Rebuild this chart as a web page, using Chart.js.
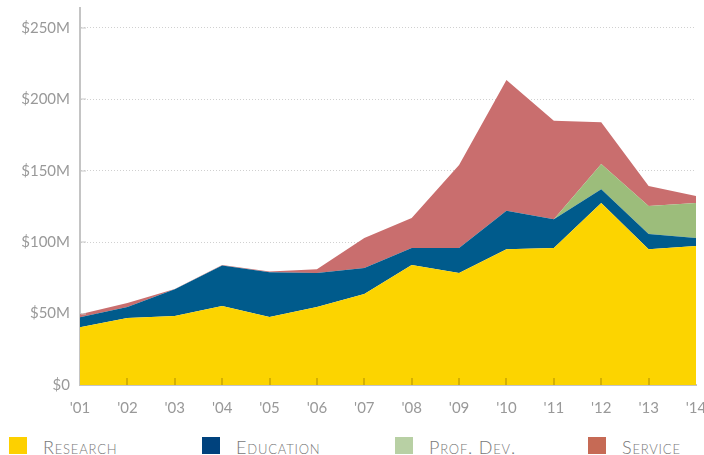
<!DOCTYPE html>
<html>
<head>
<meta charset="utf-8">
<script src="https://cdn.jsdelivr.net/npm/chart.js@4"></script>
<style>
  body { margin: 0; background: #fff; }
  #wrap { position: relative; width: 704px; height: 455px; }
  #legend { position: absolute; left: 0; top: 437px; width: 704px; height: 18px; }
  .item { position: absolute; top: 0; height: 18px; }
  .item .sw { position: absolute; left: 0; top: 0; width: 18px; height: 17px; }
  .item .tx { position: absolute; left: 34px; top: 1px; font-family: Lato, "Open Sans", sans-serif; font-weight: 300;
              font-size: 18px; font-variant: small-caps; letter-spacing: 0.8px; color: #777; line-height: 18px;
              white-space: nowrap; }
</style>
</head>
<body>
<div id="wrap">
  <canvas id="chart" width="704" height="420"></canvas>
  <div id="legend"></div>
</div>
<script>
// categorias y series (millones de dolares)
const years = ["'01", "'02", "'03", "'04", "'05", "'06", "'07", "'08", "'09", "'10", "'11", "'12", "'13", "'14"];
const research  = [40.5, 47, 48.3, 55.3, 47.6, 54.6, 63.7, 84, 78.4, 95, 96, 127.5, 95, 97.3];
const education = [7, 7.6, 18.7, 28.3, 31.4, 23.8, 18.3, 12, 17.6, 27, 20, 9.5, 10.7, 5.7];
const profDev   = [0, 0, 0, 0, 0, 0, 0, 0, 0, 0, 0, 17.7, 19.7, 24.5];
const service   = [2, 2.8, 0.3, 0.4, 0.4, 2.6, 21, 21, 58, 91.6, 69, 29.3, 14, 4.9];
const yTicks = [0, 50, 100, 150, 200, 250];

const legendX = [9, 202, 395, 588];

function serie(label, data, color, swatch, fill) {
    return { label: label, data: data, backgroundColor: color, borderColor: color, borderWidth: 0,
             pointRadius: 0, tension: 0, fill: fill, swatch: swatch };
}

// marcas pequeñas sobre los ejes
const axisMarks = {
    id: 'axisMarks',
    afterDatasetsDraw(chart) {
        const ctx = chart.ctx, x = chart.scales.x, y = chart.scales.y;
        ctx.save();
        ctx.fillStyle = 'rgba(140,110,0,0.35)';
        for (let i = 1; i < years.length - 1; i++) {
            const px = x.getPixelForTick(i);
            ctx.fillRect(Math.round(px) - 1, y.bottom - 7, 2, 7);
        }
        ctx.fillStyle = '#c8c8c8';
        yTicks.forEach(v => {
            if (v === 0) return;
            ctx.fillRect(x.left + 1, Math.round(y.getPixelForValue(v)) - 0.5, 5, 1);
        });
        ctx.restore();
    }
};

const chart = new Chart(document.getElementById('chart'), {
    type: 'line',
    data: {
        labels: years,
        datasets: [
            serie('Research', research, '#fcd400', '#fdd000', 'origin'),
            serie('Education', education, '#005b8c', '#00427d', '-1'),
            serie('Prof. Dev.', profDev, '#9cbd7b', '#b8d0a4', '-1'),
            serie('Service', service, '#c96e6e', '#c66a55', '-1')
        ]
    },
    options: {
        responsive: false,
        animation: false,
        layout: { padding: { top: 8, right: 8, left: 0, bottom: 0 } },
        plugins: { legend: { display: false }, tooltip: { enabled: false } },
        scales: {
            x: {
                offset: false,
                grid: { display: false, drawTicks: false },
                border: { color: '#c4c4c4', width: 2 },
                ticks: { color: '#999', padding: 14, maxRotation: 0, autoSkip: false,
                         font: { family: 'Lato', size: 15 } },
                afterFit(scale) { scale.height = 35; scale.paddingLeft = 0; scale.paddingRight = 0; }
            },
            y: {
                stacked: true,
                min: 0,
                max: 264,
                afterBuildTicks(scale) { scale.ticks = yTicks.map(v => ({ value: v })); },
                grid: { color: ctx => ctx.tick && ctx.tick.value > 0 ? '#d0d0d0' : 'rgba(0,0,0,0)',
                        drawTicks: false },
                border: { color: '#c4c4c4', width: 2, dash: [1, 2] },
                ticks: { color: '#999', padding: 10,
                         font: { family: 'Lato', size: 15 },
                         callback: v => '$' + v + (v ? 'M' : '') },
                afterFit(scale) { scale.width = 80; scale.paddingTop = 0; scale.paddingBottom = 0; }
            }
        }
    },
    plugins: [axisMarks]
});

// leyenda en html (versalitas)
const legend = document.getElementById('legend');
chart.data.datasets.forEach((ds, i) => {
    const item = document.createElement('div');
    item.className = 'item';
    item.style.left = legendX[i] + 'px';
    item.innerHTML = '<span class="sw" style="background:' + ds.swatch + '"></span><span class="tx">' + ds.label + '</span>';
    legend.appendChild(item);
});
</script>
</body>
</html>
